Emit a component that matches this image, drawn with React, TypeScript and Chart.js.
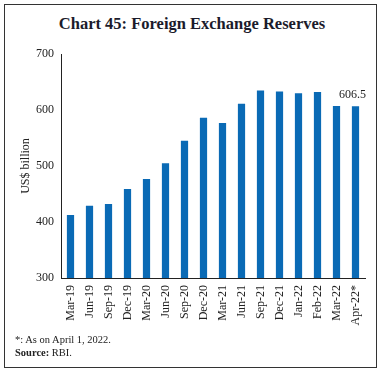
import React, { useEffect, useRef } from "react";
import { Chart, registerables } from "chart.js";

Chart.register(...registerables);

const categories = ["Mar-19","Jun-19","Sep-19","Dec-19","Mar-20","Jun-20","Sep-20","Dec-20","Mar-21","Jun-21","Sep-21","Dec-21","Jan-22","Feb-22","Mar-22","Apr-22*"];
const reserves = [412.5, 429, 432, 459, 477, 505, 545, 586, 577, 611, 635, 633, 630, 632, 607, 606.5];
const yTicks = [300, 400, 500, 600, 700];
const labelText = "606.5";

const FONT = "'Liberation Serif', 'DejaVu Serif', serif";

export default function App() {
  const ref = useRef<HTMLCanvasElement | null>(null);
  useEffect(() => {
    if (!ref.current) return;
    const labelPlugin = {
      id: "lastLabel",
      afterDatasetsDraw(chart: any) {
        const meta = chart.getDatasetMeta(0);
        const el = meta.data[meta.data.length - 1];
        const ctx = chart.ctx;
        ctx.save();
        ctx.font = `12px ${FONT}`;
        ctx.fillStyle = "#222";
        ctx.textAlign = "center";
        ctx.textBaseline = "bottom";
        ctx.fillText(labelText, el.x - 3, el.y - 6);
        ctx.restore();
      },
    };
    const chart = new Chart(ref.current, {
      type: "bar",
      data: {
        labels: categories,
        datasets: [{
          data: reserves,
          backgroundColor: "#0a6ab5",
          barPercentage: 0.38,
          categoryPercentage: 1,
        }],
      },
      options: {
        animation: false,
        responsive: false,
        layout: { padding: { left: 19, right: 19, top: 54, bottom: 0 } },
        plugins: { legend: { display: false }, tooltip: { enabled: false } },
        scales: {
          x: {
            grid: { display: false, drawTicks: false },
            border: { display: true, color: "#222", width: 1 },
            ticks: {
              autoSkip: false,
              maxRotation: 90,
              minRotation: 90,
              padding: 7,
              color: "#222",
              font: { family: FONT, size: 12 },
            },
            afterFit(scale: any) { scale.height = 95; },
          },
          y: {
            min: 300,
            max: 700,
            afterBuildTicks(scale: any) { scale.ticks = yTicks.map(v => ({ value: v })); },
            grid: { display: false, drawTicks: true, tickLength: 4, tickColor: "#222" } as any,
            border: { display: true, color: "#222", width: 1 },
            ticks: {
              color: "#222",
              padding: 3,
              font: { family: FONT, size: 12 },
            },
            title: {
              display: true,
              text: "US$ billion",
              color: "#222",
              font: { family: FONT, size: 12 },
              padding: 0,
            },
            afterFit(scale: any) { scale.width = 42; },
          },
        },
      },
      plugins: [labelPlugin],
    });
    return () => chart.destroy();
  }, []);

  return (
    <div style={{ position: "fixed", left: 0, top: 0, width: 384, height: 373, background: "#fff", fontFamily: FONT }}>
      <div style={{ position: "absolute", left: 4, top: 4, width: 371, height: 362, border: "1.5px solid #333" }} />
      <div style={{ position: "absolute", left: 0, top: 14, width: 384, textAlign: "center", fontSize: 16.5, fontWeight: "bold", color: "#1b1b2b" }}>
        Chart 45: Foreign Exchange Reserves
      </div>
      <canvas ref={ref} width={384} height={373} style={{ position: "absolute", left: 0, top: 0 }} />
      <div style={{ position: "absolute", left: 15, top: 333, fontSize: 10.5, color: "#222", lineHeight: "13px" }}>
        <div>*: As on April 1, 2022.</div>
        <div><b>Source:</b> RBI.</div>
      </div>
    </div>
  );
}
